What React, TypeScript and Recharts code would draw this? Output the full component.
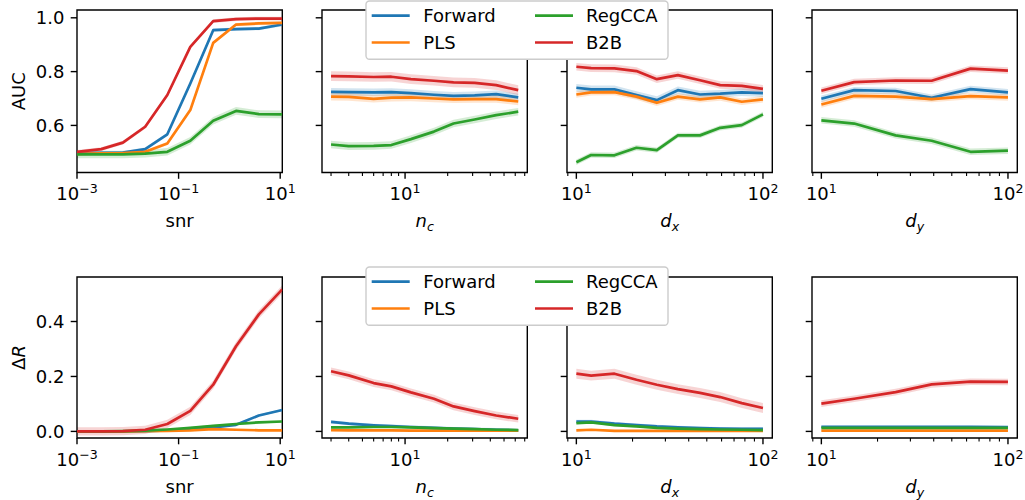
import React from "react";
import { Area, ComposedChart, Line, ReferenceArea, XAxis, YAxis } from "recharts";

const methods = ["Forward", "PLS", "RegCCA", "B2B"];
const colors = ["#1f77b4", "#ff7f0e", "#2ca02c", "#d62728"];

// x values for each column
const snrValues = [0.001, 0.003, 0.008, 0.022, 0.06, 0.17, 0.48, 1.35, 3.8, 11];
const ncValues = [3, 4, 6, 8, 11, 16, 22, 31, 44, 63];
const dxValues = [10, 12, 16, 21, 27, 35, 46, 59, 77, 100];
const dyValues = [10, 15, 25, 39, 63, 100];

// AUC (top row)
const aucSnrForward = [0.496, 0.498, 0.499, 0.512, 0.567, 0.756, 0.954, 0.958, 0.96, 0.975];
const aucSnrPls = [0.494, 0.496, 0.497, 0.502, 0.533, 0.657, 0.907, 0.975, 0.979, 0.981];
const aucSnrRegcca = [0.492, 0.492, 0.492, 0.495, 0.502, 0.543, 0.617, 0.654, 0.642, 0.641];
const aucSnrB2b = [0.502, 0.512, 0.536, 0.595, 0.713, 0.892, 0.988, 0.995, 0.997, 0.997];

const aucNcForward = [0.725, 0.724, 0.723, 0.724, 0.72, 0.714, 0.71, 0.712, 0.716, 0.704];
const aucNcPls = [0.707, 0.706, 0.699, 0.703, 0.704, 0.7, 0.697, 0.698, 0.698, 0.689];
const aucNcRegcca = [0.529, 0.523, 0.524, 0.527, 0.549, 0.577, 0.607, 0.622, 0.638, 0.651];
const aucNcB2b = [0.783, 0.782, 0.78, 0.781, 0.772, 0.766, 0.76, 0.758, 0.75, 0.731];

const aucDxForward = [0.74, 0.734, 0.734, 0.713, 0.694, 0.731, 0.715, 0.718, 0.723, 0.72];
const aucDxPls = [0.715, 0.723, 0.724, 0.707, 0.684, 0.707, 0.697, 0.704, 0.688, 0.697];
const aucDxRegcca = [0.463, 0.49, 0.489, 0.517, 0.508, 0.563, 0.563, 0.591, 0.601, 0.641];
const aucDxB2b = [0.818, 0.813, 0.812, 0.802, 0.772, 0.787, 0.768, 0.75, 0.747, 0.736];

const aucDyForward = [0.699, 0.731, 0.728, 0.703, 0.735, 0.723];
const aucDyPls = [0.678, 0.71, 0.707, 0.698, 0.709, 0.704];
const aucDyRegcca = [0.619, 0.607, 0.563, 0.543, 0.502, 0.506];
const aucDyB2b = [0.729, 0.761, 0.767, 0.766, 0.811, 0.804];

// Delta R (bottom row)
const drSnrForward = [0, 0, 0, 0.001, 0.004, 0.009, 0.015, 0.024, 0.058, 0.078];
const drSnrPls = [0, 0, 0, 0.001, 0.002, 0.004, 0.008, 0.006, 0.004, 0.004];
const drSnrRegcca = [0, 0, 0.001, 0.003, 0.007, 0.013, 0.02, 0.027, 0.033, 0.036];
const drSnrB2b = [0, 0, 0.001, 0.006, 0.027, 0.075, 0.17, 0.31, 0.426, 0.517];

const drNcForward = [0.035, 0.028, 0.022, 0.019, 0.016, 0.013, 0.01, 0.008, 0.006, 0.004];
const drNcPls = [0.005, 0.004, 0.004, 0.004, 0.003, 0.003, 0.003, 0.003, 0.003, 0.003];
const drNcRegcca = [0.015, 0.015, 0.016, 0.016, 0.015, 0.012, 0.01, 0.008, 0.006, 0.005];
const drNcB2b = [0.219, 0.204, 0.176, 0.164, 0.142, 0.119, 0.091, 0.074, 0.058, 0.046];

const drDxForward = [0.036, 0.036, 0.028, 0.023, 0.018, 0.015, 0.012, 0.01, 0.009, 0.009];
const drDxPls = [0.004, 0.006, 0.002, 0.002, 0.002, 0.002, 0.002, 0.002, 0.002, 0.002];
const drDxRegcca = [0.03, 0.033, 0.023, 0.018, 0.013, 0.01, 0.008, 0.007, 0.006, 0.005];
const drDxB2b = [0.21, 0.203, 0.21, 0.188, 0.17, 0.154, 0.14, 0.125, 0.103, 0.085];

const drDyForward = [0.017, 0.017, 0.017, 0.017, 0.017, 0.016];
const drDyPls = [0.003, 0.003, 0.003, 0.003, 0.003, 0.003];
const drDyRegcca = [0.013, 0.013, 0.013, 0.013, 0.013, 0.013];
const drDyB2b = [0.101, 0.119, 0.143, 0.171, 0.181, 0.18];

// half width of the shaded band, per method (Forward, PLS, RegCCA, B2B)
const aucSnrBand = [0.006, 0.006, 0.014, 0.007];
const aucNcBand = [0.014, 0.014, 0.014, 0.018];
const aucDxBand = [0.014, 0.012, 0.01, 0.014];
const aucDyBand = [0.012, 0.012, 0.012, 0.012];
const drSnrBand = [0.004, 0.003, 0.004, 0.015];
const drNcBand = [0.006, 0.003, 0.004, 0.014];
const drDxBand = [0.006, 0.003, 0.004, 0.018];
const drDyBand = [0.004, 0.003, 0.004, 0.012];

// axis ticks
const snrTicks = [0.001, 0.1, 10];
const ncTicks = [3, 4, 5, 6, 7, 8, 9, 10, 20, 30, 40, 50, 60, 70];
const dTicks = [9, 10, 20, 30, 40, 50, 60, 70, 80, 90, 100];
const aucTicks = [0.6, 0.8, 1.0];
const drTicks = [0.0, 0.2, 0.4];

const FONT = "'DejaVu Sans', sans-serif";
const colLeft = [76.7, 321.8, 566.9, 812.1];
const rowTop = [10.2, 277.3];
const PW = 205.3;
const PH = [162.5, 161];
const PAD_L = 80;
const PAD_T = 10;
const PAD_R = 30;
const PAD_B = 75;
const yDomains: [number, number][] = [[0.425, 1.029], [-0.024, 0.562]];

type Col = { x: number[]; domain: [number, number]; ticks: number[]; label: string };
const columns: Col[] = [
  { x: snrValues, domain: [0.001, 11], ticks: snrTicks, label: "snr" },
  { x: ncValues, domain: [2.59, 73], ticks: ncTicks, label: "nc" },
  { x: dxValues, domain: [8.91, 112.2], ticks: dTicks, label: "dx" },
  { x: dyValues, domain: [8.91, 112.2], ticks: dTicks, label: "dy" },
];

const rowsSeries = [
  [
    [aucSnrForward, aucSnrPls, aucSnrRegcca, aucSnrB2b],
    [aucNcForward, aucNcPls, aucNcRegcca, aucNcB2b],
    [aucDxForward, aucDxPls, aucDxRegcca, aucDxB2b],
    [aucDyForward, aucDyPls, aucDyRegcca, aucDyB2b],
  ],
  [
    [drSnrForward, drSnrPls, drSnrRegcca, drSnrB2b],
    [drNcForward, drNcPls, drNcRegcca, drNcB2b],
    [drDxForward, drDxPls, drDxRegcca, drDxB2b],
    [drDyForward, drDyPls, drDyRegcca, drDyB2b],
  ],
];
const rowsBands = [
  [aucSnrBand, aucNcBand, aucDxBand, aucDyBand],
  [drSnrBand, drNcBand, drDxBand, drDyBand],
];

const XTick = (props: any) => {
  const { x, y, payload } = props;
  const lg = Math.log10(payload.value);
  const exp = Math.round(lg);
  const major = Math.abs(lg - exp) < 1e-6;
  return (
    <g>
      <line x1={x} x2={x} y1={y} y2={y + (major ? 6.3 : 3.6)} stroke="#000" strokeWidth={major ? 1.4 : 1.1} />
      {major && (
        <text x={x} y={y + 28} textAnchor="middle" fontSize={18} fontFamily={FONT} fill="#000">
          10
          <tspan dy={-7} fontSize={12.6}>
            {exp < 0 ? "\u2212" + -exp : String(exp)}
          </tspan>
        </text>
      )}
    </g>
  );
};

const makeYTick = (showLabel: boolean) => (props: any) => {
  const { x, y, payload } = props;
  return (
    <g>
      <line x1={x - 6.3} x2={x} y1={y} y2={y} stroke="#000" strokeWidth={1.4} />
      {showLabel && (
        <text x={x - 12.6} y={y + 6.5} textAnchor="end" fontSize={18} fontFamily={FONT} fill="#000">
          {Number(payload.value).toFixed(1)}
        </text>
      )}
    </g>
  );
};

const makeXLabel = (label: string) => (props: any) => {
  const vb = props.viewBox;
  if (!vb) return null;
  const cx = vb.x + vb.width / 2;
  const by = vb.y + 55;
  if (label === "snr") {
    return (
      <text x={cx} y={by} textAnchor="middle" fontSize={18} fontFamily={FONT} fill="#000">
        snr
      </text>
    );
  }
  return (
    <text x={cx} y={by} textAnchor="middle" fontSize={18} fontFamily={FONT} fill="#000" fontStyle="italic">
      {label[0]}
      <tspan dy={4} fontSize={12.6}>
        {label[1]}
      </tspan>
    </text>
  );
};

const makeYLabel = (row: number) => (props: any) => {
  const vb = props.viewBox;
  if (!vb) return null;
  const tx = vb.x + vb.width - 52;
  const ty = vb.y + vb.height / 2;
  return (
    <text x={tx} y={ty} transform={`rotate(-90 ${tx} ${ty})`} textAnchor="middle" fontSize={18} fontFamily={FONT} fill="#000">
      {row === 0 ? "AUC" : (
        <>
          {"\u0394"}
          <tspan fontStyle="italic">R</tspan>
        </>
      )}
    </text>
  );
};

function Panel({ row, col }: { row: number; col: number }) {
  const c = columns[col];
  const series = rowsSeries[row][col];
  const bands = rowsBands[row][col];
  const data = c.x.map((xv, i) => {
    const r: Record<string, any> = { x: xv };
    series.forEach((s, k) => {
      r["m" + k] = s[i];
      r["b" + k] = [s[i] - bands[k], s[i] + bands[k]];
    });
    return r;
  });
  const yDomain = yDomains[row];
  const yTicks = row === 0 ? aucTicks : drTicks;
  return (
    <div style={{ position: "absolute", left: colLeft[col] - PAD_L, top: rowTop[row] - PAD_T }}>
      <ComposedChart
        width={PW + PAD_L + PAD_R}
        height={PH[row] + PAD_T + PAD_B}
        data={data}
        margin={{ top: PAD_T, right: PAD_R, bottom: 0, left: 0 }}
      >
        <XAxis
          dataKey="x"
          type="number"
          scale="log"
          domain={c.domain}
          allowDataOverflow
          ticks={c.ticks}
          interval={0}
          tickLine={false}
          axisLine={false}
          tickSize={0}
          tickMargin={0}
          height={PAD_B}
          tick={XTick}
          label={makeXLabel(c.label)}
        />
        <YAxis
          type="number"
          domain={yDomain}
          allowDataOverflow
          ticks={yTicks}
          interval={0}
          width={PAD_L}
          tickLine={false}
          axisLine={false}
          tickSize={0}
          tickMargin={0}
          tick={makeYTick(col === 0)}
          label={col === 0 ? makeYLabel(row) : undefined}
        />
        {methods.map((m, k) => (
          <Area
            key={"band" + m}
            dataKey={"b" + k}
            type="linear"
            stroke="none"
            fill={colors[k]}
            fillOpacity={0.2}
            isAnimationActive={false}
          />
        ))}
        {methods.map((m, k) => (
          <Line
            key={m}
            dataKey={"m" + k}
            type="linear"
            stroke={colors[k]}
            strokeWidth={2.7}
            strokeLinejoin="round"
            dot={false}
            activeDot={false}
            isAnimationActive={false}
          />
        ))}
        <ReferenceArea
          x1={c.domain[0]}
          x2={c.domain[1]}
          y1={yDomain[0]}
          y2={yDomain[1]}
          fill="none"
          fillOpacity={0}
          stroke="#000"
          strokeWidth={1.4}
          ifOverflow="visible"
        />
      </ComposedChart>
    </div>
  );
}

function LegendBox({ top }: { top: number }) {
  const rowsY = [14.7, 41.5];
  const handleX = [5.7, 169];
  const textX = [57.3, 220];
  return (
    <svg width={306} height={62} style={{ position: "absolute", left: 364, top: top - 2, zIndex: 5, overflow: "visible" }}>
      <rect x={2} y={2} width={302} height={58.3} rx={3.5} fill="#fff" stroke="#cccccc" strokeWidth={1.4} />
      {methods.map((m, k) => {
        const cI = Math.floor(k / 2);
        const rI = k % 2;
        const ly = 2 + rowsY[rI];
        return (
          <g key={m}>
            <line x1={2 + handleX[cI]} x2={2 + handleX[cI] + 38} y1={ly} y2={ly} stroke={colors[k]} strokeWidth={2.7} />
            <text x={2 + textX[cI]} y={ly + 6.5} fontSize={18} fontFamily={FONT} fill="#000">
              {m}
            </text>
          </g>
        );
      })}
    </svg>
  );
}

export default function App() {
  return (
    <div style={{ position: "absolute", left: 0, top: 0, width: 1025, height: 500, background: "#fff", fontFamily: FONT }}>
      {[0, 1].map((row) => [0, 1, 2, 3].map((col) => <Panel key={row + "-" + col} row={row} col={col} />))}
      <LegendBox top={0.8} />
      <LegendBox top={267} />
    </div>
  );
}
